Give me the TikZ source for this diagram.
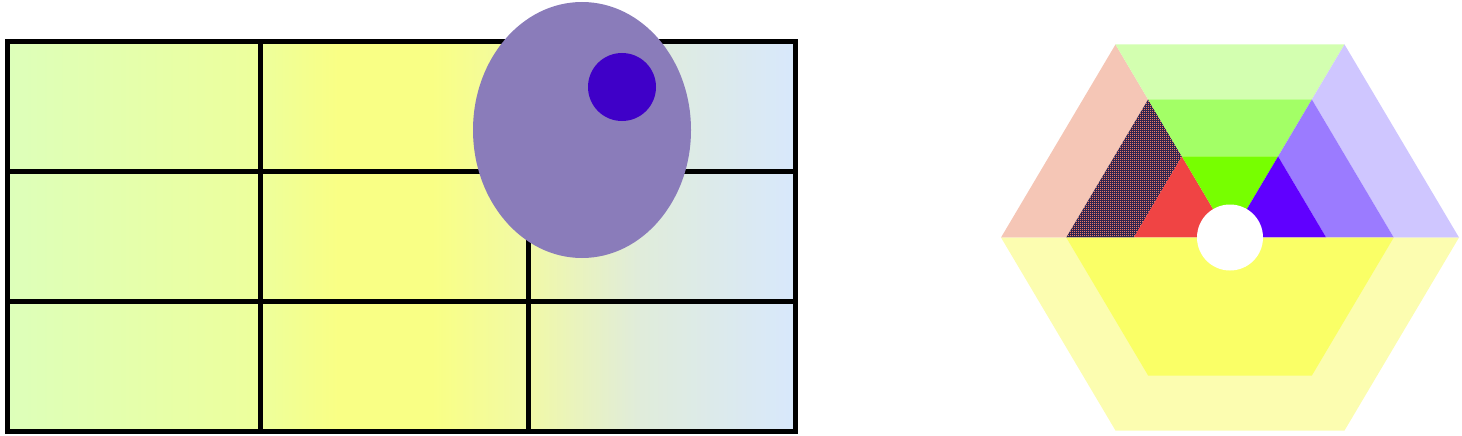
\documentclass[tikz,border=0pt]{standalone}
\usepackage{xcolor}
\usepackage{tikz}
\usetikzlibrary{patterns}
\definecolor{gridGreen}{HTML}{DDFFBA}
\definecolor{gridLime}{HTML}{EDFF9C}
\definecolor{gridYellow}{HTML}{F9FF85}
\definecolor{gridCream}{HTML}{F1F9A6}
\definecolor{gridMist}{HTML}{E0ECDA}
\definecolor{gridBlue}{HTML}{D8E8FC}
\definecolor{blobLilac}{HTML}{8A7CBA}
\definecolor{blobIndigo}{HTML}{3F00C8}
\definecolor{hexSalmon}{HTML}{F5C6B6}
\definecolor{hexNavy}{HTML}{2E2450}
\definecolor{hexDot}{HTML}{F07A64}
\definecolor{hexRed}{HTML}{F04444}
\definecolor{hexMint}{HTML}{D3FFB0}
\definecolor{hexGreen}{HTML}{A3FF66}
\definecolor{hexLime}{HTML}{77FF00}
\definecolor{hexLavender}{HTML}{CFC6FF}
\definecolor{hexViolet}{HTML}{9B7BFF}
\definecolor{hexPurple}{HTML}{6000FF}
\definecolor{hexPale}{HTML}{FCFDB0}
\definecolor{hexYellow}{HTML}{FAFF66}
\pgfdeclarehorizontalshading{gridfade}{100bp}{
  color(0bp)=(gridGreen); color(25bp)=(gridGreen); color(41bp)=(gridLime);
  color(46bp)=(gridYellow); color(52bp)=(gridYellow); color(58bp)=(gridCream);
  color(65bp)=(gridMist); color(75bp)=(gridBlue); color(100bp)=(gridBlue)}
\pgfdeclarepatternformonly{finechecks}{\pgfqpoint{0pt}{0pt}}{\pgfqpoint{2.2pt}{2.2pt}}{\pgfqpoint{2.2pt}{2.2pt}}{
  \pgfpathrectangle{\pgfqpoint{0pt}{0pt}}{\pgfqpoint{1.3pt}{1.3pt}}
  \pgfusepath{fill}}
\tikzset{
  grid line/.style={line width=5pt,draw=black},
  hatched band/.style={preaction={fill=hexNavy},pattern=finechecks,pattern color=hexDot}
}
\begin{document}
\begin{tikzpicture}[x=1pt,y=-1pt]
\useasboundingbox (0,0) rectangle (1462,436);
% grid of cells
\shade[shading=gridfade] (7,41.5) rectangle (795,431.5);
\foreach \gx in {260,528}
  \draw[grid line] (\gx,41.5) -- (\gx,431.5);
\foreach \gy in {171.5,301.5}
  \draw[grid line] (7,\gy) -- (795,\gy);
\draw[grid line] (7,41.5) rectangle (795,431.5);
% blob over the grid
\coordinate (blob) at (582,130);
\fill[blobLilac] (blob) ellipse[x radius=109,y radius=128];
\fill[blobIndigo] (622,87) circle[radius=34];
% hexagon
\coordinate (hexc) at (1230,237.5);
\begin{scope}[shift={(hexc)},xscale=229,yscale=-222.9]
  \fill[hexSalmon] (180:1) -- (120:1) -- (120:.715) -- (180:.715) -- cycle;
  \fill[hexMint] (120:1) -- (60:1) -- (60:.715) -- (120:.715) -- cycle;
  \fill[hexLavender] (60:1) -- (0:1) -- (0:.715) -- (60:.715) -- cycle;
  \fill[hatched band] (180:.715) -- (120:.715) -- (120:.42) -- (180:.42) -- cycle;
  \fill[hexGreen] (120:.715) -- (60:.715) -- (60:.42) -- (120:.42) -- cycle;
  \fill[hexViolet] (60:.715) -- (0:.715) -- (0:.42) -- (60:.42) -- cycle;
  \fill[hexRed] (180:.42) -- (120:.42) -- (0,0) -- cycle;
  \fill[hexLime] (120:.42) -- (60:.42) -- (0,0) -- cycle;
  \fill[hexPurple] (60:.42) -- (0:.42) -- (0,0) -- cycle;
  \fill[hexPale] (180:1) -- (240:1) -- (300:1) -- (0:1) -- cycle;
  \fill[hexYellow] (180:.715) -- (240:.715) -- (300:.715) -- (0:.715) -- cycle;
\end{scope}
\fill[white] (hexc) circle[radius=33];
\end{tikzpicture}
\end{document}
